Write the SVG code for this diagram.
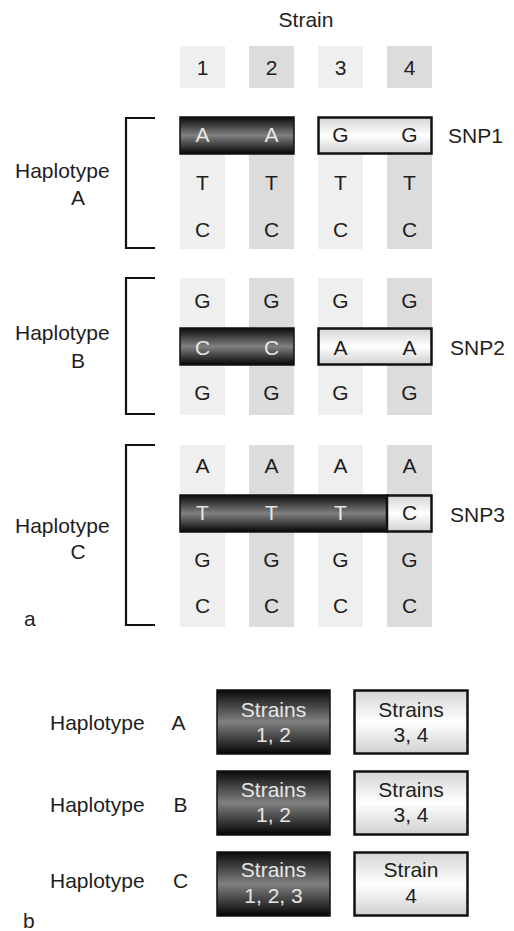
<svg xmlns="http://www.w3.org/2000/svg" width="514" height="931" viewBox="0 0 514 931">
  <defs>
    <linearGradient id="darkGrad" x1="0" y1="0" x2="0" y2="1">
      <stop offset="0" stop-color="#0a0a0a"/>
      <stop offset="0.5" stop-color="#808080"/>
      <stop offset="1" stop-color="#050505"/>
    </linearGradient>
    <linearGradient id="lightGrad" x1="0" y1="0" x2="0" y2="1">
      <stop offset="0" stop-color="#d4d4d4"/>
      <stop offset="0.5" stop-color="#ffffff"/>
      <stop offset="1" stop-color="#d0d0d0"/>
    </linearGradient>
    <style>
      text { font-family: "Liberation Sans", Arial, sans-serif; font-size: 21px; fill: #1e1e1e; }
      .lbl { font-size: 21px; }
      .mid { text-anchor: middle; }
      .inv { fill: #e6e6e6; }
      .colA { fill: #efefef; }
      .colB { fill: #dcdcdc; }
      .dark { fill: url(#darkGrad); stroke: #111; stroke-width: 1.5; }
      .light { fill: url(#lightGrad); stroke: #111; stroke-width: 2.5; }
      .bracket { fill: none; stroke: #111; stroke-width: 2.2; }
    </style>
  </defs>
  <rect width="514" height="931" fill="#ffffff"/>

  <!-- Panel a: strain header -->
  <g id="strain-header">
    <text class="lbl mid" x="306" y="27">Strain</text>
    <rect class="colA" x="180" y="46" width="45" height="42"/>
    <rect class="colB" x="249" y="46" width="45" height="42"/>
    <rect class="colA" x="318" y="46" width="45" height="42"/>
    <rect class="colB" x="387" y="46" width="45" height="42"/>
    <text class="mid" x="202.5" y="75">1</text>
    <text class="mid" x="271.5" y="75">2</text>
    <text class="mid" x="340.5" y="75">3</text>
    <text class="mid" x="409.5" y="75">4</text>
  </g>

  <!-- Haplotype A block -->
  <g id="haplotype-a">
    <rect class="colA" x="180" y="118" width="45" height="131"/>
    <rect class="colB" x="249" y="118" width="45" height="131"/>
    <rect class="colA" x="318" y="118" width="45" height="131"/>
    <rect class="colB" x="387" y="118" width="45" height="131"/>
    <path class="bracket" d="M155,118 H126 V248 H155"/>
    <text class="lbl" x="15" y="178">Haplotype</text>
    <text class="lbl mid" x="78" y="205">A</text>
    <rect class="dark" x="180" y="117" width="114" height="37"/>
    <rect class="light" x="318.5" y="117.5" width="113" height="36"/>
    <text class="inv mid" x="202.5" y="142">A</text>
    <text class="inv mid" x="271.5" y="142">A</text>
    <text class="mid" x="340.5" y="142">G</text>
    <text class="mid" x="409.5" y="142">G</text>
    <text class="lbl" x="448" y="143">SNP1</text>
    <text class="mid" x="202.5" y="190">T</text>
    <text class="mid" x="271.5" y="190">T</text>
    <text class="mid" x="340.5" y="190">T</text>
    <text class="mid" x="409.5" y="190">T</text>
    <text class="mid" x="202.5" y="237">C</text>
    <text class="mid" x="271.5" y="237">C</text>
    <text class="mid" x="340.5" y="237">C</text>
    <text class="mid" x="409.5" y="237">C</text>
  </g>

  <!-- Haplotype B block -->
  <g id="haplotype-b">
    <rect class="colA" x="180" y="278" width="45" height="137"/>
    <rect class="colB" x="249" y="278" width="45" height="137"/>
    <rect class="colA" x="318" y="278" width="45" height="137"/>
    <rect class="colB" x="387" y="278" width="45" height="137"/>
    <path class="bracket" d="M155,278 H126 V414 H155"/>
    <text class="lbl" x="15" y="340">Haplotype</text>
    <text class="lbl mid" x="78" y="368">B</text>
    <text class="mid" x="202.5" y="308">G</text>
    <text class="mid" x="271.5" y="308">G</text>
    <text class="mid" x="340.5" y="308">G</text>
    <text class="mid" x="409.5" y="308">G</text>
    <rect class="dark" x="180" y="328" width="114" height="37"/>
    <rect class="light" x="318.5" y="328.5" width="113" height="36"/>
    <text class="inv mid" x="202.5" y="355">C</text>
    <text class="inv mid" x="271.5" y="355">C</text>
    <text class="mid" x="340.5" y="355">A</text>
    <text class="mid" x="409.5" y="355">A</text>
    <text class="lbl" x="450" y="355">SNP2</text>
    <text class="mid" x="202.5" y="400">G</text>
    <text class="mid" x="271.5" y="400">G</text>
    <text class="mid" x="340.5" y="400">G</text>
    <text class="mid" x="409.5" y="400">G</text>
  </g>

  <!-- Haplotype C block -->
  <g id="haplotype-c">
    <rect class="colA" x="180" y="445" width="45" height="182"/>
    <rect class="colB" x="249" y="445" width="45" height="182"/>
    <rect class="colA" x="318" y="445" width="45" height="182"/>
    <rect class="colB" x="387" y="445" width="45" height="182"/>
    <path class="bracket" d="M155,445 H126 V625 H155"/>
    <text class="lbl" x="15" y="533">Haplotype</text>
    <text class="lbl mid" x="78" y="559">C</text>
    <text class="mid" x="202.5" y="473">A</text>
    <text class="mid" x="271.5" y="473">A</text>
    <text class="mid" x="340.5" y="473">A</text>
    <text class="mid" x="409.5" y="473">A</text>
    <rect class="dark" x="180" y="495" width="207" height="37"/>
    <rect class="light" x="387" y="495.5" width="44.5" height="36"/>
    <text class="inv mid" x="202.5" y="520">T</text>
    <text class="inv mid" x="271.5" y="520">T</text>
    <text class="inv mid" x="340.5" y="520">T</text>
    <text class="mid" x="409.5" y="520">C</text>
    <text class="lbl" x="450" y="522">SNP3</text>
    <text class="mid" x="202.5" y="567">G</text>
    <text class="mid" x="271.5" y="567">G</text>
    <text class="mid" x="340.5" y="567">G</text>
    <text class="mid" x="409.5" y="567">G</text>
    <text class="mid" x="202.5" y="613">C</text>
    <text class="mid" x="271.5" y="613">C</text>
    <text class="mid" x="340.5" y="613">C</text>
    <text class="mid" x="409.5" y="613">C</text>
  </g>

  <text class="lbl" x="24" y="626">a</text>

  <!-- Panel b: haplotype summary -->
  <g id="summary-a">
    <text class="lbl" x="50" y="730">Haplotype</text>
    <text class="lbl mid" x="178.5" y="730">A</text>
    <rect class="dark" x="217" y="690" width="113" height="64"/>
    <text class="lbl inv mid" x="273.5" y="717">Strains</text>
    <text class="lbl inv mid" x="273.5" y="742">1, 2</text>
    <rect class="light" x="354.5" y="690.5" width="113" height="63"/>
    <text class="lbl mid" x="411" y="717">Strains</text>
    <text class="lbl mid" x="411" y="742">3, 4</text>
  </g>
  <g id="summary-b">
    <text class="lbl" x="50" y="812">Haplotype</text>
    <text class="lbl mid" x="180.5" y="812">B</text>
    <rect class="dark" x="217" y="771" width="113" height="64"/>
    <text class="lbl inv mid" x="273.5" y="797">Strains</text>
    <text class="lbl inv mid" x="273.5" y="822">1, 2</text>
    <rect class="light" x="354.5" y="771.5" width="113" height="63"/>
    <text class="lbl mid" x="411" y="797">Strains</text>
    <text class="lbl mid" x="411" y="822">3, 4</text>
  </g>
  <g id="summary-c">
    <text class="lbl" x="50" y="888">Haplotype</text>
    <text class="lbl mid" x="180.5" y="888">C</text>
    <rect class="dark" x="217" y="852" width="113" height="64"/>
    <text class="lbl inv mid" x="273.5" y="877">Strains</text>
    <text class="lbl inv mid" x="273.5" y="903">1, 2, 3</text>
    <rect class="light" x="354.5" y="852.5" width="113" height="63"/>
    <text class="lbl mid" x="411" y="877">Strain</text>
    <text class="lbl mid" x="411" y="903">4</text>
  </g>

  <text class="lbl" x="23" y="928">b</text>
</svg>
